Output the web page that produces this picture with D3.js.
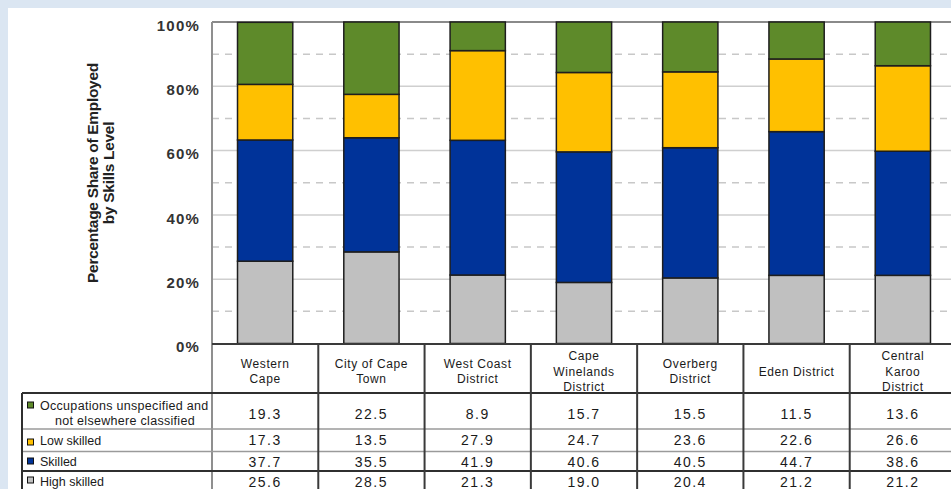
<!DOCTYPE html>
<html>
<head>
<meta charset="utf-8">
<script src="https://cdn.jsdelivr.net/npm/d3@7"></script>
<style>
    body { margin: 0; padding: 0; background: #dbe6f2; overflow: hidden; }
    text { font-family: "Liberation Sans", Arial, sans-serif; }
</style>
</head>
<body>
<div id="chart"></div>
<script>
// Chart data
var categories = ["Western Cape", "City of Cape Town", "West Coast District", "Cape Winelands District",
    "Overberg District", "Eden District", "Central Karoo District"];
var headerLabels = [["Western", "Cape"], ["City of Cape", "Town"], ["West Coast", "District"],
    ["Cape", "Winelands", "District"], ["Overberg", "District"], ["Eden District"], ["Central", "Karoo", "District"]];
var seriesNames = ["High skilled", "Skilled", "Low skilled", "Occupations unspecified and not elsewhere classified"];
var highSkilled = [25.6, 28.5, 21.3, 19.0, 20.4, 21.2, 21.2];
var skilled = [37.7, 35.5, 41.9, 40.6, 40.5, 44.7, 38.6];
var lowSkilled = [17.3, 13.5, 27.9, 24.7, 23.6, 22.6, 26.6];
var unspecified = [19.3, 22.5, 8.9, 15.7, 15.5, 11.5, 13.6];
var yTicks = [0, 20, 40, 60, 80, 100];
var colors = ["#c0c0c0", "#003399", "#ffc000", "#5e8a2a"];

// Build rows for the stack
var rows = categories.map(function(c, i) {
    return { cat: c, s0: highSkilled[i], s1: skilled[i], s2: lowSkilled[i], s3: unspecified[i] };
});
var keys = ["s0", "s1", "s2", "s3"];
var stacked = d3.stack().keys(keys)(rows);

// Size settings
var W = 951, H = 489;
var plotLeft = 212, plotTop = 22, plotBottom = 343.5, plotRight = 956;

var svg = d3.select("#chart").append("svg")
    .attr("width", W)
    .attr("height", H);

// Background panel
svg.append("rect").attr("x", 0).attr("y", 0).attr("width", W).attr("height", H).attr("fill", "#dbe6f2");
svg.append("rect").attr("x", 8).attr("y", 8).attr("width", W - 8).attr("height", H - 8).attr("fill", "#ffffff");

// Scales
var xScale = d3.scaleBand()
    .domain(categories)
    .range([plotLeft, plotRight]);
var yScale = d3.scaleLinear()
    .domain([0, 100])
    .range([plotBottom, plotTop]);
var barW = xScale.bandwidth() * 0.52;

// Gridlines (dashed every 10%, solid every 20%)
var minor = [10, 30, 50, 70, 90];
svg.append("g").selectAll("line")
    .data(minor)
    .enter().append("line")
    .attr("x1", plotLeft).attr("x2", W)
    .attr("y1", function(d) { return yScale(d); })
    .attr("y2", function(d) { return yScale(d); })
    .attr("stroke", "#c8c8c8")
    .attr("stroke-width", 1.5)
    .attr("stroke-dasharray", "7,6");

svg.append("g").selectAll("line")
    .data([20, 40, 60, 80])
    .enter().append("line")
    .attr("x1", plotLeft).attr("x2", W)
    .attr("y1", function(d) { return yScale(d); })
    .attr("y2", function(d) { return yScale(d); })
    .attr("stroke", "#cfcfcf")
    .attr("stroke-width", 1.5);

// top border
svg.append("line")
    .attr("x1", plotLeft).attr("x2", W)
    .attr("y1", yScale(100)).attr("y2", yScale(100))
    .attr("stroke", "#8a8a8a").attr("stroke-width", 2);

// Bars
var layer = svg.append("g").selectAll("g")
    .data(stacked)
    .enter().append("g")
    .attr("fill", function(d, i) { return colors[i]; });

layer.selectAll("rect")
    .data(function(d) { return d; })
    .enter().append("rect")
    .attr("x", function(d) { return xScale(d.data.cat) + (xScale.bandwidth() - barW) / 2; })
    .attr("y", function(d) { return yScale(d[1]); })
    .attr("width", barW)
    .attr("height", function(d) { return yScale(d[0]) - yScale(d[1]); })
    .attr("stroke", "#1e1e1e")
    .attr("stroke-width", 1.5);

// Y axis
var yAxis = d3.axisLeft(yScale)
    .tickValues(yTicks)
    .tickSize(0)
    .tickPadding(12)
    .tickFormat(function(d) { return d + "%"; });

var yG = svg.append("g")
    .attr("transform", "translate(" + plotLeft + ",0)")
    .call(yAxis);
yG.select(".domain").remove();
yG.selectAll("text")
    .attr("font-size", 15)
    .attr("font-weight", "bold")
    .attr("letter-spacing", 1.2)
    .attr("fill", "#333")
    .attr("dy", "0.55em")
    .style("font-family", "'Liberation Sans', Arial, sans-serif");

// left axis line (runs through the table)
svg.append("line")
    .attr("x1", plotLeft).attr("x2", plotLeft)
    .attr("y1", plotTop).attr("y2", H)
    .attr("stroke", "#8f8f8f").attr("stroke-width", 2);

// Y axis title
var title = svg.append("text")
    .attr("transform", "translate(100,173) rotate(-90)")
    .attr("text-anchor", "middle")
    .attr("font-size", 15.5)
    .attr("font-weight", "bold")
    .attr("letter-spacing", -0.3)
    .attr("fill", "#222");
title.append("tspan").attr("x", 0).attr("dy", "-0.15em").text("Percentage Share of Employed");
title.append("tspan").attr("x", 0).attr("dy", "1.05em").text("by Skills Level");

// Data table
var rowLines = [393, 429, 451.5, 471];
var rowBase = [419, 445, 467, 487];
var tableSeries = [unspecified, lowSkilled, skilled, highSkilled];
var tableColors = [colors[3], colors[2], colors[1], colors[0]];

// x axis line / table top
svg.append("line")
    .attr("x1", plotLeft).attr("x2", W)
    .attr("y1", plotBottom + 0.5).attr("y2", plotBottom + 0.5)
    .attr("stroke", "#3a3a3a").attr("stroke-width", 2);

// horizontal row lines
svg.append("g").selectAll("line")
    .data(rowLines)
    .enter().append("line")
    .attr("x1", 22).attr("x2", W)
    .attr("y1", function(d) { return d; })
    .attr("y2", function(d) { return d; })
    .attr("stroke", function(d, i) { return (i == 0 || i == 3) ? "#2f2f2f" : "#9a9a9a"; })
    .attr("stroke-width", function(d, i) { return (i == 0 || i == 3) ? 2 : 1.5; });

// label column left border
svg.append("line")
    .attr("x1", 22).attr("x2", 22)
    .attr("y1", rowLines[0]).attr("y2", H)
    .attr("stroke", "#2f2f2f").attr("stroke-width", 2);

// column separators
svg.append("g").selectAll("line")
    .data(categories.slice(1))
    .enter().append("line")
    .attr("x1", function(d) { return xScale(d); })
    .attr("x2", function(d) { return xScale(d); })
    .attr("y1", plotBottom).attr("y2", H)
    .attr("stroke", "#3a3a3a").attr("stroke-width", 2);

// header labels
var header = svg.append("g").selectAll("text")
    .data(categories)
    .enter().append("text")
    .attr("text-anchor", "middle")
    .attr("font-size", 12)
    .attr("letter-spacing", 0.6)
    .attr("fill", "#1a1a1a")
    .attr("x", function(d) { return xScale(d) + xScale.bandwidth() / 2; })
    .attr("y", 0);

header.each(function(d, i) {
    var lines = headerLabels[i];
    var t = d3.select(this);
    lines.forEach(function(l, j) {
        t.append("tspan")
            .attr("x", xScale(d) + xScale.bandwidth() / 2)
            .attr("y", 375.5 + (j - (lines.length - 1) / 2) * 15.5)
            .text(l);
    });
});

// values
tableSeries.forEach(function(vals, r) {
    svg.append("g").selectAll("text")
        .data(vals)
        .enter().append("text")
        .attr("text-anchor", "middle")
        .attr("font-size", 14)
        .attr("letter-spacing", 1.5)
        .attr("fill", "#1a1a1a")
        .attr("x", function(d, i) { return xScale(categories[i]) + xScale.bandwidth() / 2; })
        .attr("y", rowBase[r])
        .text(function(d) { return d.toFixed(1); });
});

// row labels with legend keys
var keyY = [402, 439, 458, 477];
tableColors.forEach(function(c, r) {
    svg.append("rect")
        .attr("x", 27.5).attr("y", keyY[r])
        .attr("width", 6).attr("height", 6)
        .attr("fill", c)
        .attr("stroke", "#111").attr("stroke-width", 1);
});

var lbl = svg.append("g").attr("font-size", 12.5).attr("fill", "#1a1a1a");
lbl.append("text").attr("x", 40).attr("y", 410).attr("letter-spacing", 0.3).text("Occupations unspecified and");
lbl.append("text").attr("x", 125).attr("y", 425).attr("text-anchor", "middle").attr("letter-spacing", 0.3).text("not elsewhere classified");
lbl.append("text").attr("x", 40).attr("y", 445).text("Low skilled");
lbl.append("text").attr("x", 40).attr("y", 466).text("Skilled");
lbl.append("text").attr("x", 40).attr("y", 486).text("High skilled");
</script>
</body>
</html>
